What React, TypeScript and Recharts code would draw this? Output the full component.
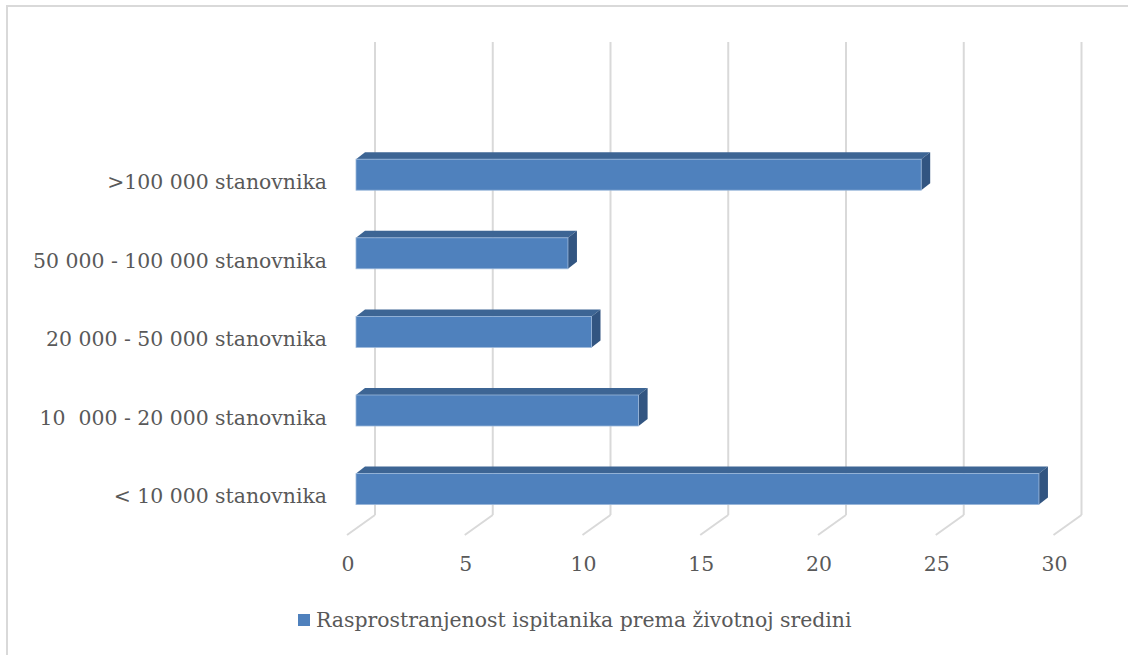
import { BarChart, Bar, XAxis, YAxis, CartesianGrid } from 'recharts';

const categories = [
  '>100 000 stanovnika',
  '50 000 - 100 000 stanovnika',
  '20 000 - 50 000 stanovnika',
  '10  000 - 20 000 stanovnika',
  '< 10 000 stanovnika',
];
const values = [24, 9, 10, 12, 29];
const xTicks = [0, 5, 10, 15, 20, 25, 30];
const seriesName = 'Rasprostranjenost ispitanika prema životnoj sredini';

const data = categories.map((name, i) => ({ name, value: values[i] }));

const FONT = '"DejaVu Serif", serif';
const FS = 20.4;
const TEXT = '#595959';
const GRID = '#d9d9d9';
const DX = 9;
const DY = 7;

// 3d box: front face, top face and right side
const Bar3D = (props: any) => {
  const { x, y, width: w, height: h } = props;
  if (!w || !h) return null;
  return (
    <g>
      <polygon
        points={`${x},${y} ${x + DX},${y - DY} ${x + w + DX},${y - DY} ${x + w},${y}`}
        fill="#3d6594"
      />
      <polygon
        points={`${x + w},${y} ${x + w + DX},${y - DY} ${x + w + DX},${y + h - DY} ${x + w},${y + h}`}
        fill="#325581"
      />
      <rect x={x} y={y} width={w} height={h} fill="#4f81bd" stroke="#9ab7da" strokeWidth={0.8} />
    </g>
  );
};

const gridLine = (p: any) => {
  const front = p.x1;
  const back = front + 19;
  return (
    <g key={p.key ?? `g${p.index}`}>
      <line x1={back} x2={back} y1={42} y2={515} stroke={GRID} strokeWidth={2} />
      <line x1={back} x2={front - 9} y1={515} y2={535} stroke={GRID} strokeWidth={2} />
    </g>
  );
};

const CatTick = ({ x, y, payload }: any) => (
  <text x={x} y={y + 14.5} textAnchor="end" fill={TEXT} fontSize={FS} fontFamily={FONT} style={{ whiteSpace: 'pre' }}>
    {payload.value}
  </text>
);

const ValTick = ({ x, y, payload }: any) => (
  <text x={x - 8} y={y + 43} textAnchor="middle" fill={TEXT} fontSize={FS} fontFamily={FONT}>
    {payload.value}
  </text>
);

export default function App() {
  return (
    <div style={{ position: 'relative', width: 1128, height: 655, overflow: 'hidden', background: '#fff' }}>
      <style>{`body{margin:0}`}</style>
      <div
        style={{
          position: 'absolute',
          left: 6,
          top: 5,
          width: 1200,
          height: 700,
          border: `2px solid ${GRID}`,
        }}
      />
      <div style={{ position: 'absolute', left: 0, top: 0 }}>
        <BarChart
          width={1128}
          height={655}
          data={data}
          layout="vertical"
          margin={{ top: 135.2, right: 65.5, bottom: 86.8, left: 0 }}
          barSize={31}
        >
          <CartesianGrid horizontal={false} vertical={gridLine} />
          <XAxis
            type="number"
            domain={[0, 30]}
            ticks={xTicks}
            height={40}
            axisLine={false}
            tickLine={false}
            tickSize={0}
            tickMargin={0}
            tick={<ValTick />}
            interval={0}
          />
          <YAxis
            type="category"
            dataKey="name"
            width={356}
            axisLine={false}
            tickLine={false}
            tickSize={0}
            tickMargin={29}
            tick={<CatTick />}
            interval={0}
          />
          <Bar dataKey="value" name={seriesName} shape={<Bar3D />} isAnimationActive={false} />
        </BarChart>
      </div>
      <div
        style={{
          position: 'absolute',
          left: 298,
          top: 608,
          display: 'flex',
          alignItems: 'center',
          fontFamily: FONT,
          fontSize: FS,
          color: TEXT,
          whiteSpace: 'nowrap',
        }}
      >
        <span style={{ display: 'inline-block', width: 12, height: 12, background: '#4f81bd', marginRight: 6 }} />
        <span>{seriesName}</span>
      </div>
    </div>
  );
}
